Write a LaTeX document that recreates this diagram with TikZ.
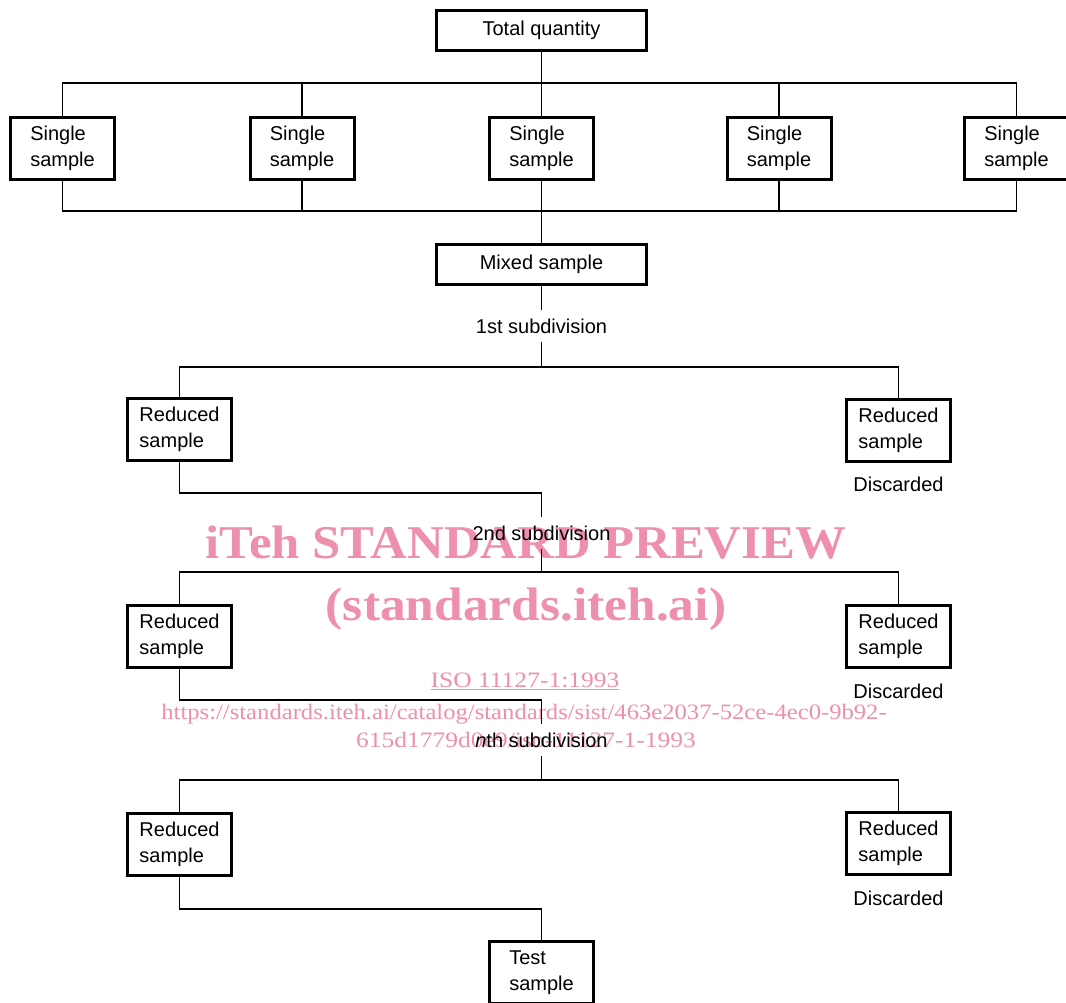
\documentclass[tikz,border=0pt]{standalone}
\usepackage{fontspec}
\usepackage{graphicx}
\setmainfont{Liberation Sans}
\newfontfamily\wmfont{Liberation Serif}
\definecolor{wmpink}{RGB}{238,143,171}
\begin{document}
\begin{tikzpicture}[x=1pt,y=-1pt,
  boxa/.style={draw, line width=3pt, minimum width=104pt, minimum height=62pt, inner sep=0pt, align=left, font=\fontsize{20}{26}\selectfont},
  boxw/.style={draw, line width=3pt, minimum width=210pt, minimum height=40pt, inner sep=0pt, font=\fontsize{20}{24}\selectfont},
  lab/.style={inner sep=0pt, minimum height=31pt, font=\fontsize{20}{24}\selectfont},
  note/.style={inner sep=0pt, anchor=base, font=\fontsize{20}{24}\selectfont},
  conn/.style={line width=1.4pt},
  wmtext/.style={text=wmpink, inner sep=0pt, anchor=base}]
\useasboundingbox (0,0) rectangle (1066,1003);

% watermark
\node[wmtext, font=\wmfont\bfseries\fontsize{47}{47}\selectfont] (wm1) at (526,558) {\scalebox{1.08}[1]{iTeh STANDARD PREVIEW}};
\node[wmtext, font=\wmfont\bfseries\fontsize{47}{47}\selectfont] (wm2) at (526,620) {\scalebox{1.095}[1]{(standards.iteh.ai)}};
\node[wmtext, font=\wmfont\fontsize{22}{22}\selectfont] (wm3) at (525,687) {\scalebox{1.16}[1]{\underline{ISO 11127-1:1993}}};
\node[wmtext, font=\wmfont\fontsize{22}{22}\selectfont] (wm4) at (524,719) {\scalebox{1.12}[1]{https://standards.iteh.ai/catalog/standards/sist/463e2037-52ce-4ec0-9b92-}};
\node[wmtext, font=\wmfont\fontsize{22}{22}\selectfont] (wm5) at (526,747) {\scalebox{1.16}[1]{615d1779d0e9/iso-11127-1-1993}};

% nodes
\node[boxw] (total) at (541.5,30.5) {Total quantity};
\node[boxa] (s1) at (62.5,148.5) {Single\\sample};
\node[boxa] (s2) at (302,148.5) {Single\\sample};
\node[boxa] (s3) at (541.5,148.5) {Single\\sample};
\node[boxa] (s4) at (779,148.5) {Single\\sample};
\node[boxa] (s5) at (1016.5,148.5) {Single\\sample};
\node[boxw] (mixed) at (541.5,264.5) {Mixed sample};

\node[lab] (sub1) at (541.5,326) {1st subdivision};
\node[boxa] (r1l) at (179.5,429.5) {Reduced\\sample};
\node[boxa] (r1r) at (898.5,430.5) {Reduced\\sample};
\node[note] (d1) at (898.5,491) {Discarded};

\node[lab] (sub2) at (541.5,533) {2nd subdivision};
\node[boxa] (r2l) at (179.5,636) {Reduced\\sample};
\node[boxa] (r2r) at (898.5,636) {Reduced\\sample};
\node[note] (d2) at (898.5,698) {Discarded};

\node[lab] (sub3) at (541.5,740) {\textit{n}\/th subdivision};
\node[boxa] (r3l) at (179.5,844) {Reduced\\sample};
\node[boxa] (r3r) at (898.5,843.5) {Reduced\\sample};
\node[note] (d3) at (898.5,905) {Discarded};

\node[boxa] (test) at (541.5,972.5) {Test\\sample};

% junction coordinates
\coordinate (tb) at (541.5,83);
\coordinate (bb) at (541.5,211);
\coordinate (h1) at (541.5,367);
\coordinate (e1) at (541.5,493);
\coordinate (h2) at (541.5,572);
\coordinate (e2) at (541.5,700);
\coordinate (h3) at (541.5,780);
\coordinate (e3) at (541.5,909);

% connectors
\draw[conn] (total.south) -- (s3.north);
\draw[conn] (s1.north) |- (tb) -| (s5.north);
\draw[conn] (s2.north) -- (s2.north |- tb);
\draw[conn] (s4.north) -- (s4.north |- tb);
\draw[conn] (s1.south) |- (bb) -| (s5.south);
\draw[conn] (s2.south) -- (s2.south |- bb);
\draw[conn] (s4.south) -- (s4.south |- bb);
\draw[conn] (s3.south) -- (mixed.north);

\draw[conn] (mixed.south) -- (sub1.north);
\draw[conn] (sub1.south) -- (h1);
\draw[conn] (r1l.north) |- (h1) -| (r1r.north);
\draw[conn] (r1l.south) |- (e1) -- (sub2.north);

\draw[conn] (sub2.south) -- (h2);
\draw[conn] (r2l.north) |- (h2) -| (r2r.north);
\draw[conn] (r2l.south) |- (e2) -- (sub3.north);

\draw[conn] (sub3.south) -- (h3);
\draw[conn] (r3l.north) |- (h3) -| (r3r.north);
\draw[conn] (r3l.south) |- (e3) -- (test.north);
\end{tikzpicture}
\end{document}
